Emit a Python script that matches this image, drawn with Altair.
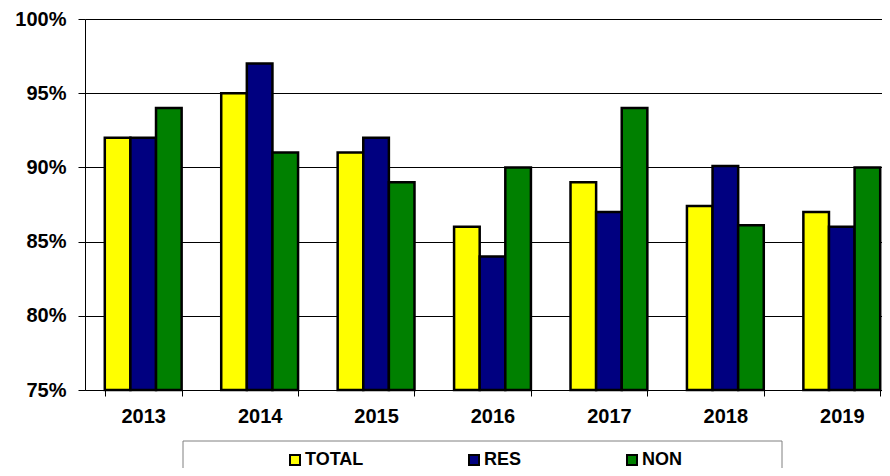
import altair as alt
import pandas as pd

years = ["2013", "2014", "2015", "2016", "2017", "2018", "2019"]
series = ["TOTAL", "RES", "NON"]
total = [92, 95, 91, 86, 89, 87.4, 87]
res = [92, 97, 92, 84, 87, 90.1, 86]
non = [94, 91, 89, 90, 94, 86.1, 90]
colors = ["#FFFF00", "#000080", "#008000"]
y_ticks = [0.75, 0.80, 0.85, 0.90, 0.95, 1.00]

rows = []
for i, yr in enumerate(years):
    for s, vals in zip(series, [total, res, non]):
        rows.append({"year": yr, "series": s, "value": vals[i] / 100})
df = pd.DataFrame(rows)

FONT = "Liberation Sans"
W, H = 797, 371

bars = alt.Chart(df).mark_bar(stroke="black", strokeWidth=2.5).encode(
    x=alt.X(
        "year:N", sort=years,
        scale=alt.Scale(range=[0, 815], paddingInner=0.34, paddingOuter=0.17),
        axis=alt.Axis(title=None, labelAngle=0, tickBand="extent", grid=False,
                      domainColor="black", tickColor="black", tickSize=6,
                      labelFont=FONT, labelFontSize=20, labelFontWeight="bold",
                      labelColor="black", labelPadding=10),
    ),
    xOffset=alt.XOffset("series:N", sort=series,
                        scale=alt.Scale(paddingInner=0, paddingOuter=0)),
    y=alt.Y(
        "value:Q",
        scale=alt.Scale(domain=[0.75, 1.0], clamp=True, zero=False, nice=False),
        axis=alt.Axis(title=None, format="%", values=y_ticks, grid=True,
                      gridColor="black", gridWidth=1, domainColor="black",
                      tickColor="black", tickSize=7, labelPadding=12,
                      labelFont=FONT, labelFontSize=20, labelFontWeight="bold",
                      labelColor="black"),
    ),
    color=alt.Color(
        "series:N", sort=series,
        scale=alt.Scale(domain=series, range=colors),
        legend=alt.Legend(
            title=None, orient="none", legendX=201, legendY=432,
            direction="horizontal", columnPadding=101,
            symbolType="square", symbolSize=100, symbolStrokeColor="black",
            symbolStrokeWidth=2, symbolOpacity=1,
            labelFont=FONT, labelFontSize=18, labelFontWeight="bold",
            labelColor="black", labelOffset=1,
        ),
    ),
)

frame = alt.Chart(pd.DataFrame({"a": [0]})).mark_rect(
    fill="white", stroke="#808080", strokeWidth=1
).encode(
    x=alt.value(98), x2=alt.value(697), y=alt.value(422), y2=alt.value(480)
)

chart = alt.layer(frame, bars).properties(
    width=W, height=H,
    autosize=alt.AutoSizeParams(type="none"),
    padding={"left": 77, "top": 11, "right": 0, "bottom": 78},
).configure_view(stroke=None).configure(background="white")

chart.save("out.html", embed_options={"renderer": "svg", "actions": False})
